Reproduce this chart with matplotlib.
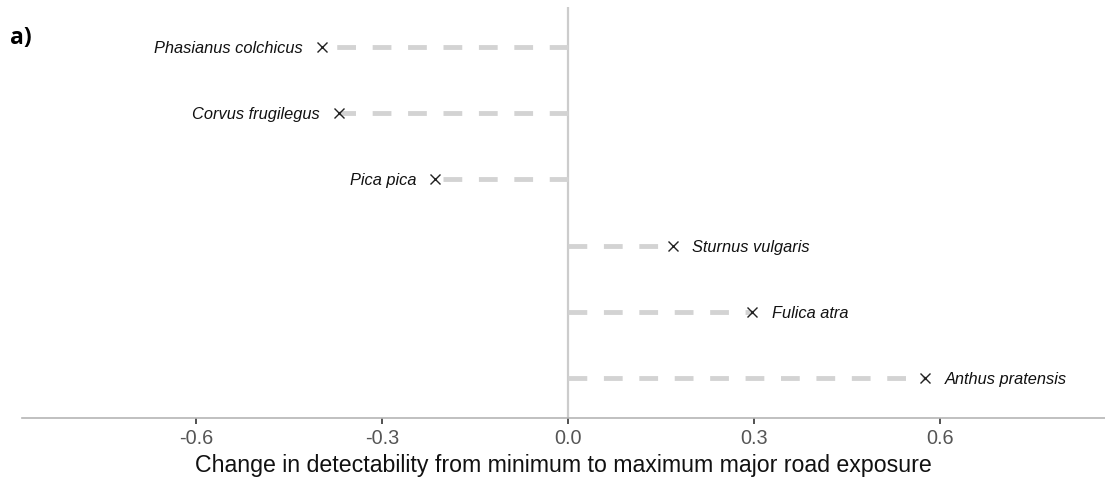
import matplotlib
matplotlib.use("Agg")
import matplotlib.pyplot as plt
import numpy as np

plt.rcParams["font.family"] = ["Liberation Sans", "DejaVu Sans"]
plt.rcParams["lines.scale_dashes"] = False

species = [
    "Phasianus colchicus",
    "Corvus frugilegus",
    "Pica pica",
    "Sturnus vulgaris",
    "Fulica atra",
    "Anthus pratensis",
]
change = [-0.397, -0.369, -0.214, 0.169, 0.297, 0.576]
xticks = [-0.6, -0.3, 0.0, 0.3, 0.6]
xlabel = "Change in detectability from minimum to maximum major road exposure"

W, H = 1105, 479
fig = plt.figure(figsize=(W / 100, H / 100), dpi=100)
ax = fig.add_axes([22 / W, 1 - 418 / H, (1105 - 22) / W, (418 - 7) / H])

ypos = np.arange(len(species), 0, -1)

ax.axvline(0, color="#cccccc", lw=1.6, zorder=1)
for name, val, y in zip(species, change, ypos):
    ax.plot([0, val], [y, y], color="#d3d3d3", lw=3.5,
            dashes=(13.5, 12), zorder=2)
    ax.plot(val, y, marker="x", color="#222222", ms=6.5, mew=1.0,
            linestyle="none", zorder=3)
    if val < 0:
        ax.annotate(name, (val, y), xytext=(-14, -1), textcoords="offset points",
                    ha="right", va="center", fontsize=11.8, style="italic",
                    color="#111111")
    else:
        ax.annotate(name, (val, y), xytext=(14, -1), textcoords="offset points",
                    ha="left", va="center", fontsize=11.8, style="italic",
                    color="#111111")

ax.set_xlim(-0.881, 0.866)
ax.set_ylim(0.4, 6.6)
ax.set_yticks([])
ax.set_xticks(xticks)
ax.set_xticklabels([f"{t:.1f}" for t in xticks])
ax.tick_params(axis="x", length=4, width=1.2, color="#333333",
               labelsize=14.3, labelcolor="#555555", pad=4)
for s in ["top", "right", "left"]:
    ax.spines[s].set_visible(False)
ax.spines["bottom"].set_color("#b5b5b5")
ax.spines["bottom"].set_linewidth(1.2)
ax.set_xlabel(xlabel, fontsize=16.7, color="#111111", labelpad=4)

fig.text(10 / W, 1 - 38 / H, "a)", fontsize=16.5, fontweight="bold",
         family=["Open Sans", "DejaVu Sans"], va="center", ha="left")

fig.savefig("out.png", dpi=100)
